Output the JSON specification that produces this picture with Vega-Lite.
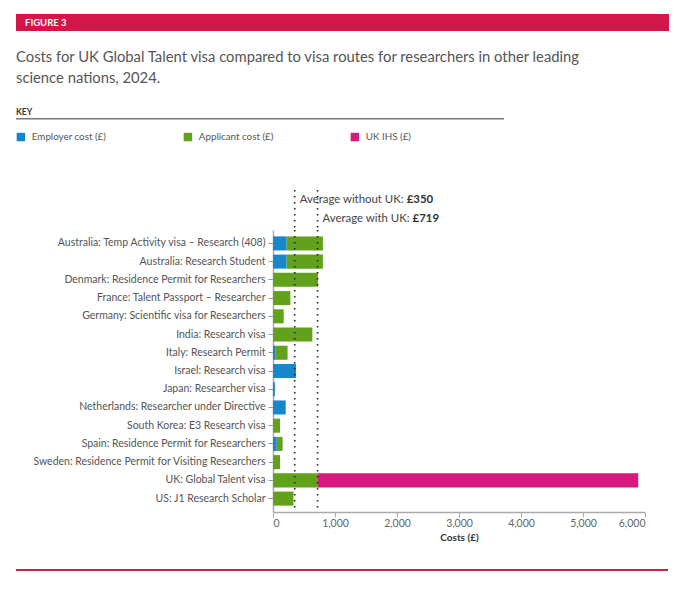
{
  "$schema": "https://vega.github.io/schema/vega-lite/v6.json",
  "description": "Costs for UK Global Talent visa compared to visa routes for researchers in other leading science nations, 2024.",
  "background": "white",
  "padding": {"left": 16, "top": 14, "right": 10, "bottom": 10},
  "config": {
    "font": "Lato",
    "view": {"stroke": null},
    "axis": {"grid": false, "labelFont": "Lato", "titleFont": "Lato"}
  },
  "datasets": {
    "costs": [
      {"route": "Australia: Temp Activity visa – Research (408)", "type": "Employer cost (£)", "cost": 220},
      {"route": "Australia: Temp Activity visa – Research (408)", "type": "Applicant cost (£)", "cost": 585},
      {"route": "Australia: Research Student", "type": "Employer cost (£)", "cost": 220},
      {"route": "Australia: Research Student", "type": "Applicant cost (£)", "cost": 585},
      {"route": "Denmark: Residence Permit for Researchers", "type": "Applicant cost (£)", "cost": 725},
      {"route": "France: Talent Passport – Researcher", "type": "Applicant cost (£)", "cost": 280},
      {"route": "Germany: Scientific visa for Researchers", "type": "Applicant cost (£)", "cost": 172},
      {"route": "India: Research visa", "type": "Applicant cost (£)", "cost": 635},
      {"route": "Italy: Research Permit", "type": "Employer cost (£)", "cost": 35},
      {"route": "Italy: Research Permit", "type": "Applicant cost (£)", "cost": 200},
      {"route": "Israel: Research visa", "type": "Employer cost (£)", "cost": 370},
      {"route": "Japan: Researcher visa", "type": "Employer cost (£)", "cost": 30},
      {"route": "Netherlands: Researcher under Directive", "type": "Employer cost (£)", "cost": 205},
      {"route": "South Korea: E3 Research visa", "type": "Applicant cost (£)", "cost": 113},
      {"route": "Spain: Residence Permit for Researchers", "type": "Employer cost (£)", "cost": 60},
      {"route": "Spain: Residence Permit for Researchers", "type": "Applicant cost (£)", "cost": 95},
      {"route": "Sweden: Residence Permit for Visiting Researchers", "type": "Applicant cost (£)", "cost": 113},
      {"route": "UK: Global Talent visa", "type": "Applicant cost (£)", "cost": 716},
      {"route": "UK: Global Talent visa", "type": "UK IHS (£)", "cost": 5175},
      {"route": "US: J1 Research Scholar", "type": "Applicant cost (£)", "cost": 330}
    ],
    "types": [
      {"type": "Employer cost (£)", "rank": 1},
      {"type": "Applicant cost (£)", "rank": 2},
      {"type": "UK IHS (£)", "rank": 3}
    ],
    "averages": [
      {"label": "Average without UK: ", "amount": "£350", "value": 350},
      {"label": "Average with UK: ", "amount": "£719", "value": 719}
    ]
  },
  "spacing": 26,
  "vconcat": [
    {
      "spacing": 69,
      "vconcat": [
        {
          "spacing": 21,
          "vconcat": [
            {
              "width": 653,
              "height": 17,
              "view": {"fill": "#d2164a", "stroke": null},
              "data": {"values": [{"label": "FIGURE 3"}]},
              "mark": {"type": "text", "align": "left", "baseline": "middle", "dx": 9, "color": "white", "fontWeight": "bold", "fontSize": 9.5},
              "encoding": {
                "x": {"datum": 0, "type": "quantitative", "scale": {"domain": [0, 1]}, "axis": null},
                "text": {"field": "label"}
              },
              "title": {
                "text": ["Costs for UK Global Talent visa compared to visa routes for researchers in other leading", "science nations, 2024."],
                "orient": "bottom",
                "anchor": "start",
                "fontSize": 14.8,
                "fontWeight": "normal",
                "color": "#555555",
                "lineHeight": 21,
                "offset": 19
              }
            },
            {
              "width": 488,
              "height": 1.5,
              "view": {"fill": "#777777", "stroke": null},
              "data": {"values": []},
              "mark": "text",
              "encoding": {},
              "title": {
                "text": "KEY",
                "anchor": "start",
                "fontSize": 8.5,
                "fontWeight": "bold",
                "color": "#333333",
                "offset": 2
              }
            }
          ]
        },
        {
          "spacing": 12,
          "bounds": "flush",
          "hconcat": [
            {
              "width": 245,
              "height": 320,
              "data": {"values": []},
              "mark": "text",
              "encoding": {}
            },
            {
              "spacing": 0,
              "vconcat": [
                {
                  "width": 372,
                  "height": 38,
                  "data": {"name": "averages"},
                  "encoding": {
                    "x": {"field": "value", "type": "quantitative", "scale": {"domain": [0, 6000]}, "axis": null}
                  },
                  "layer": [
                    {
                      "mark": {"type": "rule", "strokeDash": [1.5, 4.5], "strokeWidth": 1.6, "color": "#222222"}
                    },
                    {
                      "mark": {"type": "text", "align": "left", "baseline": "middle", "dx": 5, "fontSize": 11.4, "color": "#444444"},
                      "encoding": {
                        "y": {"field": "label", "type": "nominal", "sort": null, "axis": null},
                        "text": {"field": "label"}
                      }
                    },
                    {
                      "transform": [{"filter": "datum.value == 350"}],
                      "mark": {"type": "text", "align": "left", "baseline": "middle", "dx": 112, "fontSize": 11.4, "fontWeight": "bold", "color": "#333333"},
                      "encoding": {
                        "y": {"field": "label", "type": "nominal", "sort": null, "axis": null},
                        "text": {"field": "amount"}
                      }
                    },
                    {
                      "transform": [{"filter": "datum.value == 719"}],
                      "mark": {"type": "text", "align": "left", "baseline": "middle", "dx": 95, "fontSize": 11.4, "fontWeight": "bold", "color": "#333333"},
                      "encoding": {
                        "y": {"field": "label", "type": "nominal", "sort": null, "axis": null},
                        "text": {"field": "amount"}
                      }
                    }
                  ]
                },
                {
                  "width": 372,
                  "height": 282,
                  "layer": [
                    {
                      "data": {"name": "costs"},
                      "transform": [
                        {"lookup": "type", "from": {"data": {"name": "types"}, "key": "type", "fields": ["rank"]}}
                      ],
                      "mark": {"type": "bar"},
                      "encoding": {
                        "y": {
                          "field": "route",
                          "type": "nominal",
                          "sort": null,
                          "scale": {"paddingInner": 0.23, "paddingOuter": 0.35},
                          "axis": {
                            "title": null,
                            "labelFontSize": 10.5,
                            "labelColor": "#555555",
                            "labelPadding": 3,
                            "labelLimit": 300,
                            "tickSize": 5,
                            "tickColor": "#999999",
                            "domainColor": "#aaaaaa",
                            "domainWidth": 1.5
                          }
                        },
                        "x": {
                          "field": "cost",
                          "type": "quantitative",
                          "stack": "zero",
                          "scale": {"domain": [0, 6000]},
                          "axis": {
                            "values": [0, 1000, 2000, 3000, 4000, 5000, 6000],
                            "format": ",d",
                            "labelFontSize": 10.5,
                            "labelColor": "#666666",
                            "labelPadding": 1,
                            "tickSize": 5,
                            "tickColor": "#aaaaaa",
                            "domainColor": "#aaaaaa",
                            "domainWidth": 1.5,
                            "title": "Costs (£)",
                            "titleFontSize": 10,
                            "titleFontWeight": "bold",
                            "titleColor": "#333333",
                            "titlePadding": 4
                          }
                        },
                        "order": {"field": "rank", "type": "quantitative", "sort": "ascending"},
                        "color": {
                          "field": "type",
                          "type": "nominal",
                          "scale": {
                            "domain": ["Employer cost (£)", "Applicant cost (£)", "UK IHS (£)"],
                            "range": ["#1787cb", "#62a11c", "#d71a80"]
                          },
                          "legend": {
                            "title": null,
                            "orient": "none",
                            "legendX": 0,
                            "legendY": 118,
                            "direction": "horizontal",
                            "padding": 0,
                            "symbolType": "square",
                            "symbolSize": 72,
                            "symbolStrokeWidth": 0,
                            "labelFontSize": 9.8,
                            "labelColor": "#555555",
                            "labelOffset": 6,
                            "gridAlign": "all",
                            "columnPadding": 76
                          }
                        }
                      }
                    },
                    {
                      "data": {"name": "averages"},
                      "mark": {"type": "rule", "strokeDash": [1.5, 4.5], "strokeWidth": 1.6, "color": "#222222"},
                      "encoding": {
                        "x": {"field": "value", "type": "quantitative"}
                      }
                    }
                  ]
                }
              ]
            }
          ]
        }
      ]
    },
    {
      "width": 652,
      "height": 2,
      "view": {"fill": "#c8234c", "stroke": null},
      "data": {"values": []},
      "mark": "text",
      "encoding": {}
    }
  ]
}
